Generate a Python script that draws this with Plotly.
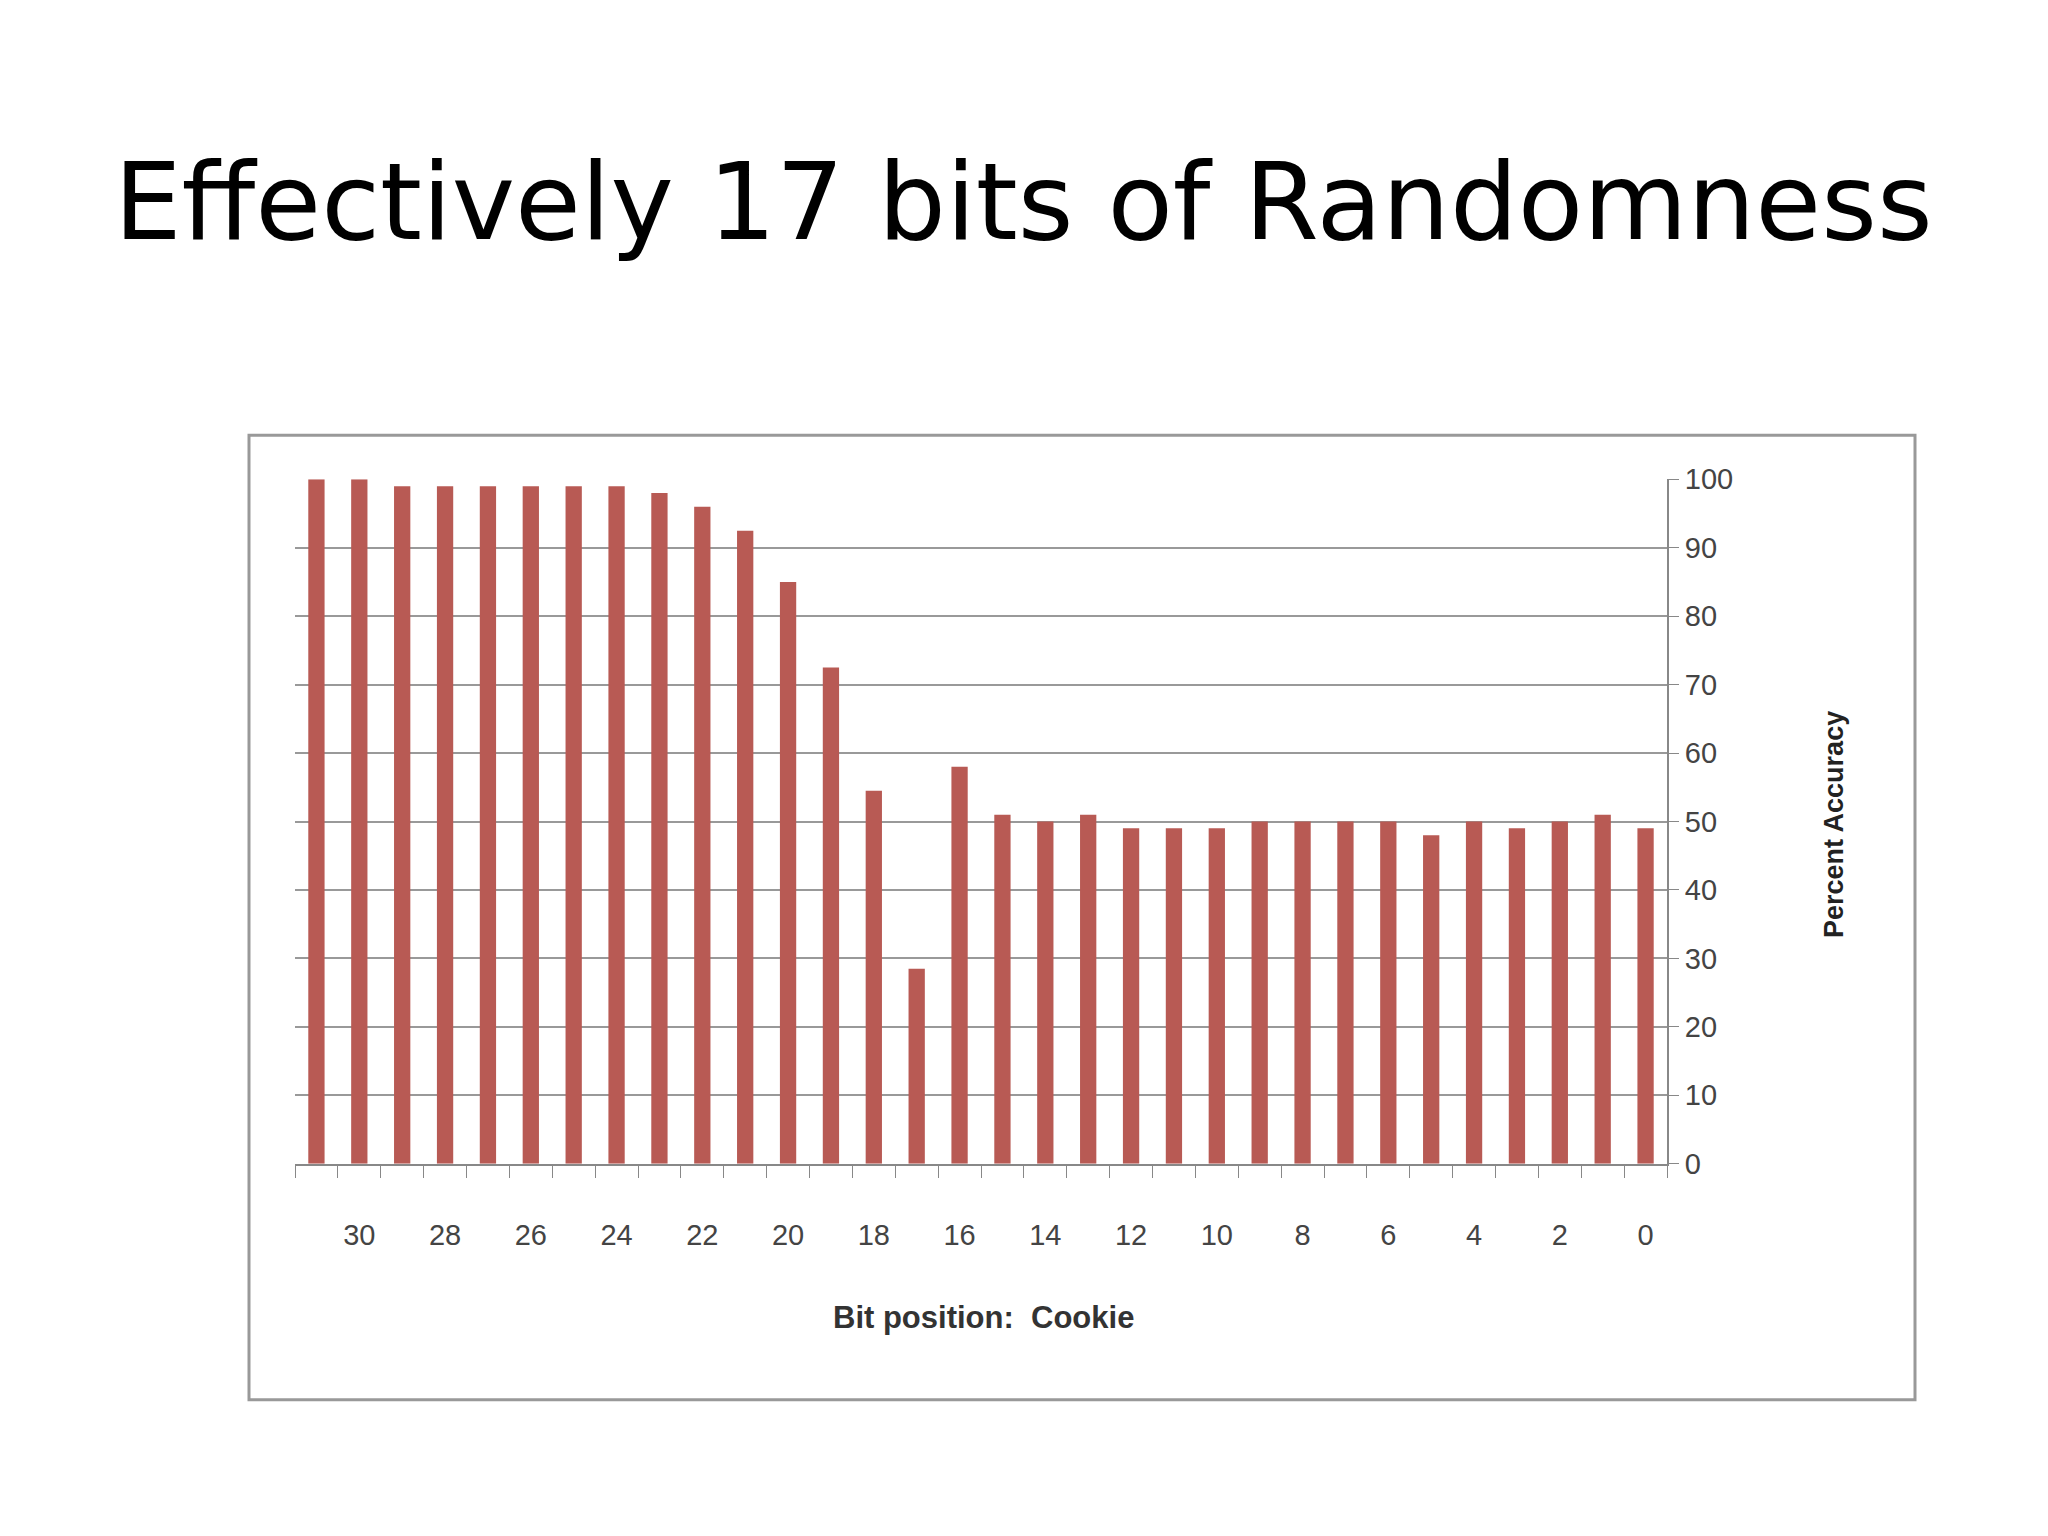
import plotly.graph_objects as go

bits = list(range(31, -1, -1))
accuracy = [100, 100, 99, 99, 99, 99, 99, 99, 98, 96, 92.5, 85, 72.5, 54.5, 28.5, 58,
            51, 50, 51, 49, 49, 49, 50, 50, 50, 50, 48, 50, 49, 50, 51, 49]
xtick_vals = list(range(30, -1, -2))
ytick_vals = list(range(0, 101, 10))

fig = go.Figure(go.Bar(x=bits, y=accuracy, width=0.38, marker_color="#B85A54", marker_line_width=0))
W, H = 2048, 1536
fig.update_layout(
    width=W, height=H, margin=dict(l=0, r=0, t=0, b=0),
    paper_bgcolor="white", plot_bgcolor="white", showlegend=False,
    xaxis=dict(domain=[287/W, 1659/W], range=[31.5, -0.5], tickvals=xtick_vals,
               ticktext=[str(v) for v in xtick_vals], ticks="", showgrid=False,
               showline=True, linecolor="#888", linewidth=2,
               tickfont=dict(family="Liberation Sans", size=29, color="#444"),
               ticklabelstandoff=44,
               minor=dict(tick0=0.5, dtick=1, ticks="outside", ticklen=12, tickcolor="#888", showgrid=False)),
    yaxis=dict(domain=[1-1164/H, 1-465/H], range=[0, 100], tickvals=ytick_vals, side="right",
               showgrid=True, gridcolor="#999", gridwidth=2, ticks="outside", ticklen=10,
               tickcolor="#888", showline=True, linecolor="#888", linewidth=2,
               tickfont=dict(family="Liberation Sans", size=29, color="#444")),
)
fig.add_annotation(text="Effectively 17 bits of Randomness", xref="paper", yref="paper",
                   x=1015/W, y=1-116/H, showarrow=False,
                   font=dict(family="DejaVu Sans", size=107, color="black"))
fig.add_annotation(text="<b>Percent Accuracy</b>", xref="paper", yref="paper", textangle=-90,
                   x=1843/W, y=1-818/H, showarrow=False,
                   font=dict(family="Liberation Sans", size=27, color="#222"))
fig.add_annotation(text="<b>Bit position:  Cookie</b>", xref="paper", yref="paper",
                   x=975/W, y=1-1341/H, showarrow=False,
                   font=dict(family="Liberation Sans", size=31, color="#333"))
fig.add_shape(type="rect", xref="paper", yref="paper", x0=241/W, x1=1907/W, y0=1-1405/H, y1=1-420/H,
              line=dict(color="#999", width=3))
fig.write_html("out.html")
